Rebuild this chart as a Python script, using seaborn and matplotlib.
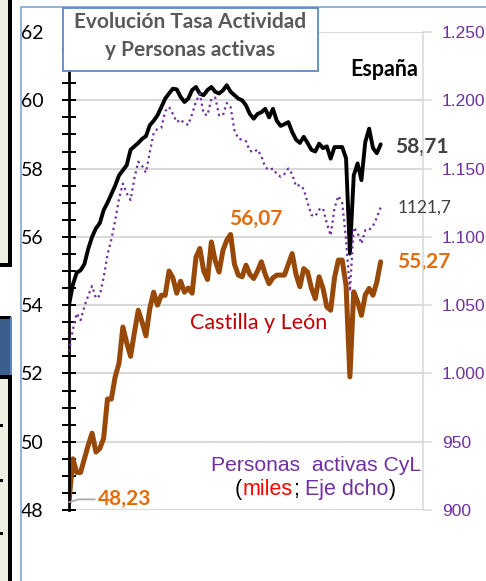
import numpy as np
import matplotlib
matplotlib.use('Agg')
import matplotlib.pyplot as plt
import matplotlib.ticker as mticker
from matplotlib.patches import Rectangle
import seaborn as sns

# Tasa de actividad (%) trimestral, 2002T1 - 2022T2
espana = [54.0, 54.6, 54.95, 55.02, 55.2, 55.65, 56.0, 56.25, 56.4, 56.78,
          57.0, 57.25, 57.5, 57.8, 57.95, 58.1, 58.55, 58.65, 58.75, 58.87,
          58.95, 59.27, 59.4, 59.56, 59.8, 60.05, 60.2, 60.34, 60.32, 60.1,
          59.95, 60.05, 60.3, 60.39, 60.19, 60.15, 60.3, 60.39, 60.25, 60.2,
          60.29, 60.44, 60.25, 60.15, 60.05, 60.0, 59.85, 59.6, 59.46, 59.6,
          59.65, 59.75, 59.5, 59.75, 59.4, 59.25, 59.3, 59.36, 59.07, 58.85,
          58.75, 58.93, 58.75, 58.55, 58.5, 58.73, 58.6, 58.65, 58.29, 58.63,
          58.63, 58.63, 58.3, 55.51, 57.8, 58.15, 57.66, 58.78, 59.17, 58.6,
          58.45, 58.71]

cyl = [48.23, 49.5, 49.1, 49.1, 49.5, 49.9, 50.25, 49.7, 49.8, 50.1,
       51.25, 51.25, 51.9, 52.3, 53.36, 52.9, 52.5, 53.2, 53.85, 53.5,
       53.1, 53.9, 54.38, 54.0, 54.29, 54.29, 55.0, 54.8, 54.35, 54.7,
       54.38, 54.5, 54.35, 55.4, 55.66, 55.0, 54.75, 55.85, 55.3, 54.97,
       55.6, 55.9, 56.07, 55.2, 54.88, 54.83, 55.17, 54.9, 54.78, 55.0,
       55.27, 54.9, 54.63, 54.8, 54.88, 54.88, 54.88, 55.2, 55.51, 54.9,
       54.54, 55.07, 54.97, 54.5, 54.19, 54.83, 54.5, 53.95, 53.85, 54.8,
       55.32, 55.32, 54.58, 51.9, 54.39, 54.1, 53.7, 54.3, 54.49, 54.29,
       54.68, 55.27]

# Personas activas CyL (miles)
activos_cyl = [1016, 1032, 1044, 1039, 1049, 1057, 1064, 1055, 1057, 1070,
               1087, 1098, 1112, 1128, 1139, 1132, 1127, 1143, 1155, 1152,
               1147, 1162, 1176, 1179, 1180, 1192, 1195, 1190, 1184, 1186,
               1183, 1182, 1190, 1199, 1205, 1190, 1189, 1201, 1202, 1189,
               1189, 1198, 1195, 1178, 1172, 1171, 1170, 1163, 1162, 1164,
               1159, 1151, 1149, 1150, 1146, 1144, 1146, 1150, 1146, 1137,
               1138, 1135, 1125, 1116, 1115, 1120, 1121, 1110, 1101, 1121,
               1130, 1125, 1098, 1060, 1107, 1103, 1095, 1105, 1105, 1108,
               1114, 1121.7]

ticks_izq = [48, 50, 52, 54, 56, 58, 60, 62]
etiquetas_izq = ['48', '50', '52', '54', '56', '58', '60', '62']
ticks_der = [900, 950, 1000, 1050, 1100, 1150, 1200, 1250]
etiquetas_der = ['900', '950', '1.000', '1.050', '1.100', '1.150', '1.200', '1.250']

trimestre = np.arange(len(espana))

W, H = 486, 581
sns.set_theme(style="white")
plt.rcParams['font.family'] = ['Lato', 'DejaVu Sans']

fig = plt.figure(figsize=(W / 100, H / 100), dpi=100)
fig.patch.set_facecolor('white')


def px_rect(x0, y0, x1, y1, **kw):
    fig.add_artist(Rectangle((x0 / W, 1 - y1 / H), (x1 - x0) / W, (y1 - y0) / H,
                             transform=fig.transFigure, **kw))


# restos del marco de la diapositiva a la izquierda
px_rect(0, 0, 8, 264, facecolor='#EDF1E1', edgecolor='none')
px_rect(8, 0, 12, 267, facecolor='black', edgecolor='none')
px_rect(0, 263, 12, 267, facecolor='black', edgecolor='none')
px_rect(0, 317, 10, 375, facecolor='#3C5E8C', edgecolor='none')
px_rect(0, 316, 11, 319, facecolor='black', edgecolor='none')
px_rect(10, 317, 11.5, 375, facecolor='#5B86C0', edgecolor='none')
px_rect(0, 375, 12, 379, facecolor='black', edgecolor='none')
px_rect(0, 379, 8, 581, facecolor='#EDF1E1', edgecolor='none')
px_rect(8, 379, 12, 581, facecolor='black', edgecolor='none')
for yy in [425, 480, 533]:
    px_rect(0, yy - 1.5, 3, yy + 1.5, facecolor='black', edgecolor='none')

# marco del gráfico
px_rect(21, 7, 495, 595, facecolor='none', edgecolor='#7EA6D8', lw=1.2)

ax = fig.add_axes([69 / W, 1 - 510 / H, 354 / W, 478 / H])
ax.patch.set_alpha(0)
ax2 = ax.twinx()

sns.lineplot(x=trimestre, y=cyl, ax=ax, color='#984807', lw=3.6, legend=False)
sns.lineplot(x=trimestre, y=espana, ax=ax, color='black', lw=2.8, legend=False)
sns.lineplot(x=trimestre, y=activos_cyl, ax=ax2, color='#7030A0', lw=1.6,
             linestyle=(0, (1, 1.6)), legend=False)

ax.set_xlim(0, 92)
ax.set_ylim(48, 62)
ax2.set_ylim(900, 1250)
ax.set_xticks([])
ax2.set_xticks([])
ax.set_xlabel('')
ax.set_ylabel('')
ax2.set_ylabel('')

ax.yaxis.set_major_locator(mticker.FixedLocator(ticks_izq))
ax.yaxis.set_major_formatter(mticker.FixedFormatter(etiquetas_izq))
ax.yaxis.set_minor_locator(mticker.MultipleLocator(0.5))
ax.tick_params(axis='y', which='both', direction='inout', length=9.4, width=1.4,
               color='black', left=True, pad=13.5, labelsize=14, labelcolor='black')
ax.yaxis.grid(True, which='major', color='#D9D9D9', lw=1.5)
ax.xaxis.grid(False)
for s in ['top', 'right', 'bottom']:
    ax.spines[s].set_visible(False)
ax.spines['left'].set_color('black')
ax.spines['left'].set_linewidth(2)

ax2.yaxis.set_major_locator(mticker.FixedLocator(ticks_der))
ax2.yaxis.set_major_formatter(mticker.FixedFormatter(etiquetas_der))
ax2.tick_params(axis='y', which='major', direction='out', length=6.5, width=1.1,
                color='#D9D9D9', right=True, pad=7, labelsize=12.5, labelcolor='#7030A0')
for lab in ax2.get_yticklabels():
    lab.set_family(['Liberation Sans', 'DejaVu Sans'])
for s in ['top', 'left', 'bottom']:
    ax2.spines[s].set_visible(False)
ax2.spines['right'].set_color('#D9D9D9')
ax2.spines['right'].set_linewidth(1.1)

naranja = '#E46C0A'
ax.annotate('58,71', xy=(trimestre[-1], espana[-1]), xytext=(10.5, -2), textcoords='offset points',
            ha='left', va='center', fontsize=15, fontweight='bold', color='#404040')
ax.annotate('55,27', xy=(trimestre[-1], cyl[-1]), xytext=(11.5, 0), textcoords='offset points',
            ha='left', va='center', fontsize=15, fontweight='bold', color=naranja)
i_max = int(np.argmax(cyl))
ax.annotate('56,07', xy=(trimestre[i_max], cyl[i_max]), xytext=(18, 11.5), textcoords='offset points',
            ha='center', va='center', fontsize=15, fontweight='bold', color=naranja)
ax.annotate('48,23', xy=(trimestre[0], cyl[0]), xytext=(21, 2), textcoords='offset points',
            ha='left', va='center', fontsize=15, fontweight='bold', color=naranja,
            arrowprops=dict(arrowstyle='-', color='#A6A6A6', lw=1.2, relpos=(0, 0.5),
                            shrinkA=0, shrinkB=0,
                            connectionstyle='angle,angleA=180,angleB=16,rad=0'))
ax2.annotate('1121,7', xy=(trimestre[-1], activos_cyl[-1]), xytext=(12, 0), textcoords='offset points',
             ha='left', va='center', fontsize=12.5, color='#404040')

fig.text(384 / W, 1 - 70 / H, 'España', ha='center', va='center',
         fontsize=15.5, fontweight='bold', color='black')
fig.text(259 / W, 1 - 329 / H, 'Castilla y León', ha='center', va='baseline',
         fontsize=15.5, color='#C00000')

sans = ['Liberation Sans', 'DejaVu Sans']
fig.text(421 / W, 1 - 471 / H, 'Personas  activas CyL', ha='right', va='baseline',
         fontsize=15.2, color='#7030A0', family=sans)

# segunda línea con varios colores, pieza a pieza
renderer = fig.canvas.get_renderer()
x_px = 235
espacio = 5.5
for txt, col, hueco in [('(', 'black', 0.5), ('miles', '#FF0000', 0.5), (';', 'black', espacio),
                        ('Eje dcho', '#7030A0', 1), (')', 'black', 0)]:
    t = fig.text(x_px / W, 1 - 495 / H, txt, ha='left', va='baseline',
                 fontsize=15.5, color=col, family=sans)
    x_px += t.get_window_extent(renderer).width + hueco

# caja del título
px_rect(63, 8, 318, 71, facecolor='white', edgecolor='#5B8BC9', lw=1.3, zorder=5)
fig.text(190 / W, 1 - 22 / H, 'Evolución Tasa Actividad', ha='center', va='center',
         fontsize=15, fontweight='bold', color='#595959', zorder=6)
fig.text(190 / W, 1 - 50 / H, 'y Personas activas', ha='center', va='center',
         fontsize=15, fontweight='bold', color='#595959', zorder=6)

fig.savefig('out.png', dpi=100)
